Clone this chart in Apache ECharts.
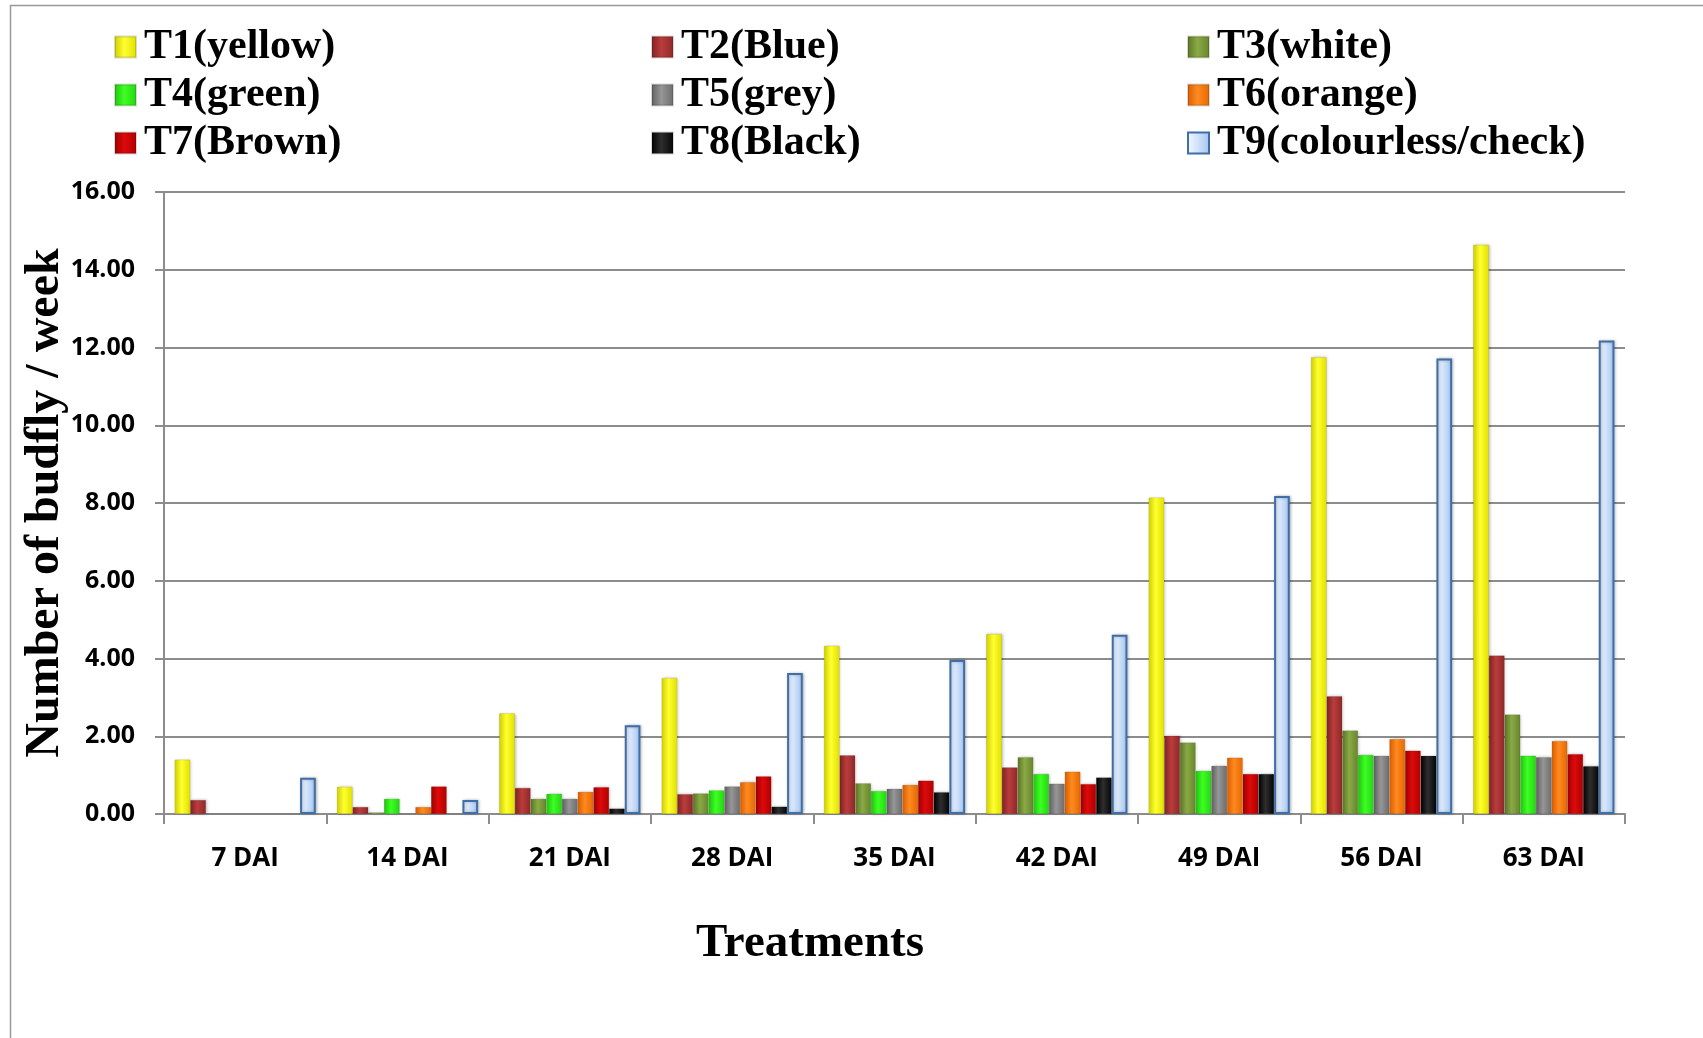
<!DOCTYPE html>
<html>
<head>
<meta charset="utf-8">
<script src="https://cdn.jsdelivr.net/npm/echarts@6/dist/echarts.min.js"></script>
<style>
html,body{margin:0;padding:0;background:#fff;}
#chart{width:1703px;height:1038px;}
</style>
</head>
<body>
<div id="chart"></div>
<script>
var categories = ['7 DAI','14 DAI','21 DAI','28 DAI','35 DAI','42 DAI','49 DAI','56 DAI','63 DAI'];
var yTicks = ['0.00','2.00','4.00','6.00','8.00','10.00','12.00','14.00','16.00'];
var seriesNames = ['T1(yellow)','T2(Blue)','T3(white)','T4(green)','T5(grey)','T6(orange)','T7(Brown)','T8(Black)','T9(colourless/check)'];
var T1 = [1.40, 0.70, 2.59, 3.50, 4.33, 4.63, 8.14, 11.75, 14.64];
var T2 = [0.36, 0.18, 0.67, 0.51, 1.51, 1.20, 2.01, 3.03, 4.08];
var T3 = [0, 0.04, 0.39, 0.53, 0.79, 1.46, 1.84, 2.15, 2.56];
var T4 = [0, 0.39, 0.52, 0.61, 0.59, 1.03, 1.11, 1.52, 1.50];
var T5 = [0, 0, 0.39, 0.71, 0.65, 0.78, 1.24, 1.50, 1.46];
var T6 = [0, 0.18, 0.57, 0.82, 0.75, 1.09, 1.45, 1.93, 1.88];
var T7 = [0, 0.71, 0.69, 0.97, 0.86, 0.77, 1.03, 1.63, 1.54];
var T8 = [0, 0, 0.14, 0.19, 0.56, 0.94, 1.03, 1.50, 1.23];
var T9 = [0.93, 0.36, 2.28, 3.63, 3.96, 4.61, 8.18, 11.72, 12.18];
var allData = [T1,T2,T3,T4,T5,T6,T7,T8,T9];

// [edge, centre, edge] colours for a bevelled look
var palette = [
  ['#cfcf00','#ffff30','#e0e000'],
  ['#7e2222','#bb3c3c','#8e2828'],
  ['#5a7326','#8aaa45','#67842d'],
  ['#1fc20f','#3dff22','#25d414'],
  ['#5e5e5e','#969696','#6c6c6c'],
  ['#d85c00','#ff8a20','#e56800'],
  ['#9e0000','#dd0a0a','#b00000'],
  ['#000000','#2e2e2e','#050505'],
  ['#f4f8ff','#d2e3fb','#a4c3ef']
];
function grad(c){
  return {type:'linear',x:0,y:0,x2:1,y2:0,colorStops:[
    {offset:0,color:c[0]},{offset:0.45,color:c[1]},{offset:1,color:c[2]}]};
}

var series = seriesNames.map(function(n,i){
  return {
    name:n, type:'bar', data: allData[i],
    barGap:'0%', barCategoryGap:'13%',
    itemStyle:{color:grad(palette[i]), borderColor: i===8 ? '#3f6fa9' : 'rgba(0,0,0,0.15)', borderWidth: i===8 ? 2 : 0.5,
      shadowColor:'rgba(0,0,0,0.25)', shadowBlur:3, shadowOffsetX:1, shadowOffsetY:0},
    emphasis:{disabled:true}
  };
});

function legendCol(left, names){
  return {
    left:left, top:26, orient:'vertical', itemGap:6, padding:0,
    itemWidth:21, itemHeight:21, icon:'rect',
    data:names,
    textStyle:{fontFamily:'Liberation Serif', fontWeight:'bold', fontSize:42, color:'#000', lineHeight:42, padding:[0,0,0,3]},
    selectedMode:false
  };
}

var chart = echarts.init(document.getElementById('chart'), null, {renderer:'canvas'});
chart.setOption({
  animation:false,
  backgroundColor:'#fff',
  legend:[
    legendCol(114,[seriesNames[0],seriesNames[3],seriesNames[6]]),
    legendCol(651,[seriesNames[1],seriesNames[4],seriesNames[7]]),
    legendCol(1187,[seriesNames[2],seriesNames[5],seriesNames[8]])
  ],
  grid:{left:164, right:78, top:192, bottom:224, containLabel:false},
  xAxis:{
    type:'category', data:categories,
    axisLine:{lineStyle:{color:'#8c8c8c', width:2}},
    axisTick:{show:true, length:10, lineStyle:{color:'#8c8c8c', width:2}},
    axisLabel:{margin:32, fontFamily:'Open Sans', fontWeight:'bold', fontSize:26, color:'#000'}
  },
  yAxis:{
    type:'value', min:0, max:16, interval:2,
    name:'Number of budfly / week', nameLocation:'middle', nameRotate:90, nameGap:94,
    nameMoveOverlap:false,
    nameTextStyle:{fontFamily:'Liberation Serif', fontWeight:'bold', fontSize:48, color:'#000'},
    axisLine:{show:true, lineStyle:{color:'#8c8c8c', width:2}},
    axisTick:{show:true, length:9, lineStyle:{color:'#8c8c8c', width:2}},
    splitLine:{lineStyle:{color:'#8c8c8c', width:2}},
    axisLabel:{margin:29, fontFamily:'Open Sans', fontWeight:'bold', fontSize:25, color:'#000',
      formatter:function(v){ return yTicks[Math.round(v/2)]; }}
  },
  graphic:[
    {type:'rect', shape:{x:10.5, y:5.5, width:2000, height:2000}, style:{fill:'none', stroke:'#999', lineWidth:1.5}, silent:true, z:-10},
    {type:'text', x:810, y:944, style:{text:'Treatments', font:'bold 47px "Liberation Serif"', fill:'#000', textAlign:'center', textVerticalAlign:'middle'}, silent:true}
  ],
  series:series
});
</script>
</body>
</html>
